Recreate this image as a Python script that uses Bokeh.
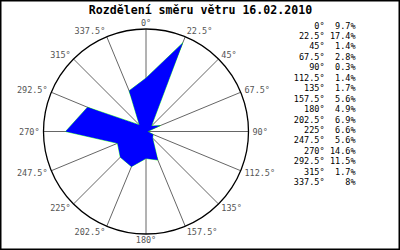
import math
from bokeh.plotting import figure
from bokeh.models import Range1d, ColumnDataSource
from bokeh.core.properties import value
from bokeh.embed import file_html
from bokeh.resources import INLINE

title = "Rozdělení směru větru 16.02.2010"
directions = [0, 22.5, 45, 67.5, 90, 112.5, 135, 157.5, 180, 202.5, 225, 247.5, 270, 292.5, 315, 337.5]
dir_labels = ["0°", "22.5°", "45°", "67.5°", "90°", "112.5°", "135°", "157.5°",
              "180°", "202.5°", "225°", "247.5°", "270°", "292.5°", "315°", "337.5°"]
percents = [9.7, 17.4, 1.4, 2.8, 0.3, 1.4, 1.7, 5.6, 4.9, 6.9, 6.6, 5.6, 14.6, 11.5, 1.7, 8]
pct_labels = ["9.7%", "17.4%", "1.4%", "2.8%", "0.3%", "1.4%", "1.7%", "5.6%",
              "4.9%", "6.9%", "6.6%", "5.6%", "14.6%", "11.5%", "1.7%", "8%"]
R_MAX = 18.6  # percent at the outer circle

W, H = 400, 250
CX, CY = 145.5, 131.0
RPX = 102.5
S = RPX / R_MAX  # px per percent


def X(px):
    return (px - CX) / S


def Y(py):
    return (CY - py) / S


p = figure(width=W, height=H, output_backend="svg", toolbar_location=None,
           x_range=Range1d(X(0), X(W)), y_range=Range1d(Y(H), Y(0)),
           min_border=0, background_fill_color="white", border_fill_color="white")
p.axis.visible = False
p.grid.visible = False
p.outline_line_color = "black"
p.outline_line_width = 2

mono = value("DejaVu Sans Mono")

# spokes
sx0, sy0, sx1, sy1 = [], [], [], []
for d in directions:
    t = math.radians(d)
    sx0.append(0); sy0.append(0)
    sx1.append(R_MAX * math.sin(t)); sy1.append(R_MAX * math.cos(t))
p.segment(sx0, sy0, sx1, sy1, line_color="#666666", line_width=1)

# outer circle
p.circle(x=[0], y=[0], radius=R_MAX, fill_color=None, line_color="black", line_width=1.3)

# rose polygon
px_, py_ = [], []
for d, v in zip(directions, percents):
    t = math.radians(d)
    px_.append(v * math.sin(t)); py_.append(v * math.cos(t))
p.patch(px_, py_, fill_color=None, line_color="#00ff00", line_width=0.7)
p.patch(px_, py_, fill_color="#0000ff", line_color=None)

# direction labels around circle
lx, ly, la = [], [], []
for d in directions:
    t = math.radians(d)
    sn, cs = math.sin(t), math.cos(t)
    bx = CX + RPX * sn + 4 * sn
    by = CY - RPX * cs - 6 * cs
    lx.append(X(bx)); ly.append(Y(by))
    la.append("left" if sn > 0.05 else ("right" if sn < -0.05 else "center"))
src = ColumnDataSource(dict(x=lx, y=ly, t=dir_labels, a=la))
p.text(x="x", y="y", text="t", text_align="a", text_baseline="middle", source=src,
       text_font=mono, text_font_size="8.5px", text_color="#555555")

# title
p.text(x=[X(200)], y=[Y(9.5)], text=[title], text_align="center", text_baseline="middle",
       text_font=mono, text_font_size="11.6px", text_font_style="bold", text_color="black")

# legend table
rows_y = [Y(25 + i * 10.45) for i in range(len(directions))]
p.text(x=[X(324)] * len(directions), y=rows_y, text=dir_labels, text_align="right",
       text_baseline="middle", text_font=mono, text_font_size="8.5px", text_color="black")
p.text(x=[X(355)] * len(directions), y=rows_y, text=pct_labels, text_align="right",
       text_baseline="middle", text_font=mono, text_font_size="8.5px", text_color="black")

open("out.html", "w").write(file_html(p, INLINE))
